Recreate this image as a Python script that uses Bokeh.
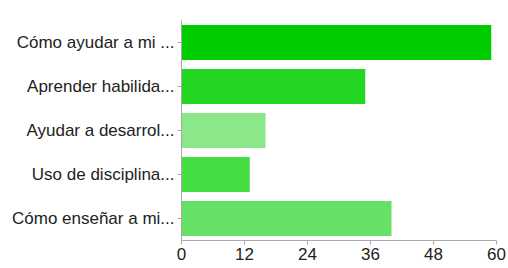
from bokeh.plotting import figure
from bokeh.models import ColumnDataSource, FixedTicker, Range1d
from bokeh.embed import file_html
from bokeh.resources import INLINE

categories = ["Cómo ayudar a mi ...", "Aprender habilida...", "Ayudar a desarrol...",
              "Uso de disciplina...", "Cómo enseñar a mi..."]
values = [59, 35, 16, 13, 40]
colors = ["#00CC00", "#22D622", "#8AE88A", "#44DD44", "#66E066"]
x_ticks = [0, 12, 24, 36, 48, 60]

src = ColumnDataSource(dict(cat=categories, val=values, color=colors))

p = figure(width=508, height=268, y_range=list(reversed(categories)),
           x_range=Range1d(0, 60), output_backend="svg", toolbar_location=None,
           min_border_left=181, min_border_right=12, min_border_top=20,
           min_border_bottom=28)
p.hbar(y="cat", right="val", left=0, height=0.79, fill_color="color",
       line_color=None, source=src)

p.outline_line_color = None
p.xgrid.grid_line_color = None
p.ygrid.grid_line_color = None

p.xaxis.ticker = FixedTicker(ticks=x_ticks)
p.xaxis.minor_tick_line_color = None
p.xaxis.major_tick_out = 4
p.xaxis.major_tick_in = 0
p.yaxis.major_tick_out = 4
p.yaxis.major_tick_in = 0
for ax in (p.xaxis, p.yaxis):
    ax.axis_line_color = "#AAAAAA"
    ax.major_tick_line_color = "#AAAAAA"
    ax.major_label_text_font = "Liberation Sans"
    ax.major_label_text_font_size = "17px"
    ax.major_label_text_color = "#222222"
    ax.major_label_text_font_style = "normal"
p.yaxis.major_label_standoff = 3
p.xaxis.major_label_standoff = 3

open("out.html", "w").write(file_html(p, INLINE))
